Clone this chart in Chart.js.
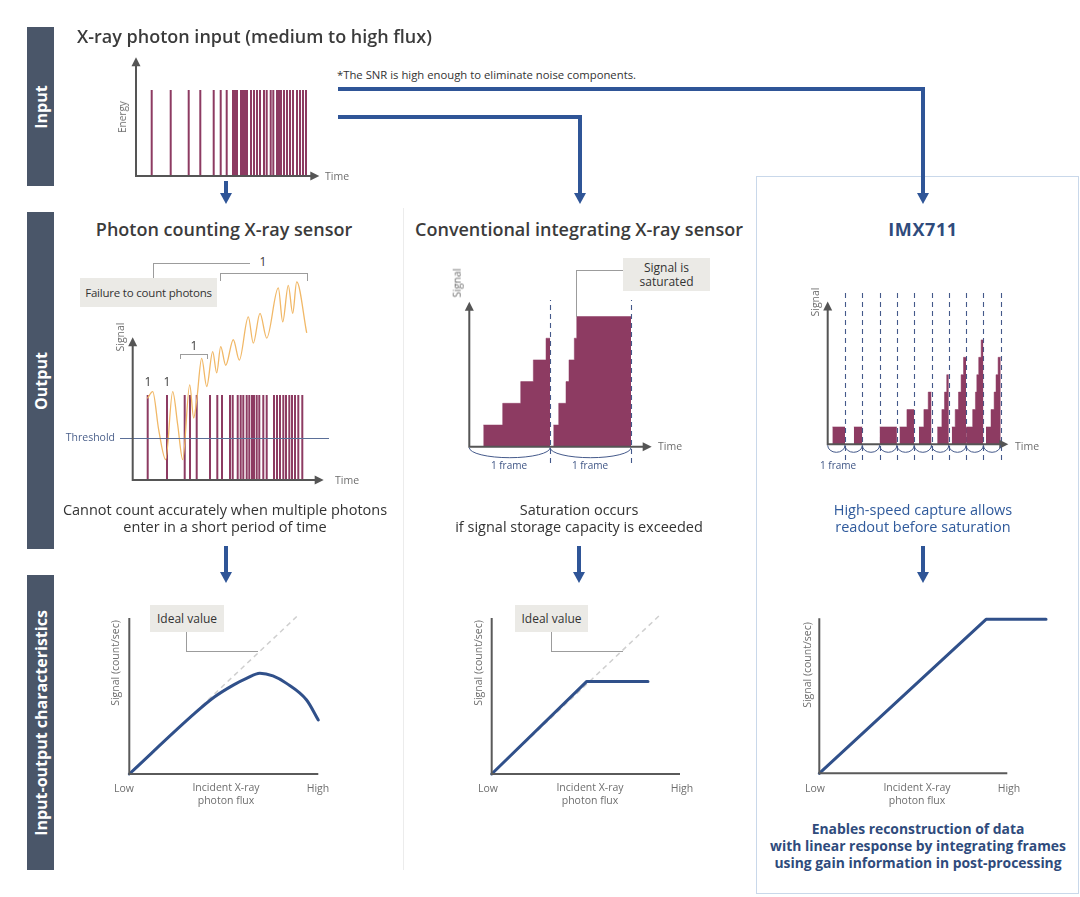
<!DOCTYPE html>
<html>
<head>
<meta charset="utf-8">
<title>X-ray photon input: photon counting vs integrating vs IMX711</title>
<script src="https://cdn.jsdelivr.net/npm/chart.js@4.4.1/dist/chart.umd.min.js"></script>
<style>
  body { margin: 0; width: 1080px; height: 897px; position: relative; overflow: hidden; background: #fff;
         font-family: "Open Sans", "Noto Sans", sans-serif; color: #3a3a3a; }
  .side { position: absolute; left: 27px; width: 27px; background: #4a5669; }
  .side span { position: absolute; left: 50%; top: 50%; transform: translate(-50%, -50%) rotate(-90deg);
               color: #fff; font-weight: 700; font-size: 16px; white-space: nowrap; }
  .t { position: absolute; white-space: nowrap; z-index: 3; line-height: 1.2; }
  .c { transform: translate(-50%, -50%); text-align: center; }
  .l { transform: translateY(-50%); }
  .r { transform: translate(-100%, -50%); }
  .rot { transform: translate(-50%, -50%) rotate(-90deg); }
  .ax { font-size: 10.5px; color: #6e6e6e; }
  .h2 { font-size: 18px; font-weight: 600; color: #3b3b3b; }
  .desc { font-size: 14.5px; color: #333; line-height: 17px; }
  .fr { font-size: 10px; color: #3f5585; }
  .note { position: absolute; background: #ebeae6; font-size: 12px; color: #333; display: flex; align-items: center;
          justify-content: center; text-align: center; line-height: 14px; z-index: 3; white-space: nowrap; }
  .ln { position: absolute; background: #9c9c9c; z-index: 3; }
  .blue { position: absolute; background: #2f5597; z-index: 3; }
  .head { position: absolute; width: 0; height: 0; border-left: 6px solid transparent; border-right: 6px solid transparent;
          border-top: 11px solid #2f5597; z-index: 3; }
  canvas { position: absolute; z-index: 1; }
</style>
</head>
<body>

<div class="side" style="top:27px;height:159px"><span>Input</span></div>
<div class="side" style="top:212px;height:337px"><span>Output</span></div>
<div class="side" style="top:575px;height:295px"><span>Input-output characteristics</span></div>

<div style="position:absolute;left:403px;top:208px;width:1px;height:662px;background:#ececec"></div>
<div style="position:absolute;left:756px;top:176px;width:323px;height:718px;border:1.5px solid #c9d8ea;box-sizing:border-box"></div>

<!-- input section -->
<div class="t l" style="left:77px;top:37px;font-size:18px;font-weight:600;color:#3b3b3b">X-ray photon input (medium to high flux)</div>
<div class="t l" style="left:337px;top:75px;font-size:11.3px;color:#333">*The SNR is high enough to eliminate noise components.</div>
<div class="t rot ax" style="left:122px;top:117px;font-size:10px">Energy</div>
<div class="t l ax" style="left:325px;top:176px">Time</div>

<div class="blue" style="left:338px;top:87px;width:587px;height:4px"></div>
<div class="blue" style="left:921px;top:87px;width:4px;height:107px"></div>
<div class="head" style="left:917px;top:193px"></div>
<div class="blue" style="left:338px;top:115px;width:244px;height:4px"></div>
<div class="blue" style="left:578px;top:115px;width:4px;height:79px"></div>
<div class="head" style="left:574px;top:193px"></div>
<div class="blue" style="left:224px;top:181px;width:4px;height:13px"></div>
<div class="head" style="left:220px;top:193px"></div>

<!-- column titles -->
<div class="t c h2" style="left:224px;top:230px">Photon counting X-ray sensor</div>
<div class="t c h2" style="left:579px;top:230px">Conventional integrating X-ray sensor</div>
<div class="t c h2" style="left:923px;top:230px;color:#2f4b7c;font-weight:700;letter-spacing:0.6px">IMX711</div>

<!-- photon counting annotations -->
<div class="note" style="left:80px;top:278px;width:137px;height:29px;font-size:11.5px;letter-spacing:-0.2px">Failure to count photons</div>
<div class="ln" style="left:153px;top:263px;width:97px;height:1px"></div>
<div class="ln" style="left:153px;top:263px;width:1px;height:15px"></div>
<div class="t c" style="left:263px;top:262px;font-size:12px">1</div>
<div class="ln" style="left:220px;top:273px;width:87px;height:1px"></div>
<div class="ln" style="left:220px;top:273px;width:1px;height:8px"></div>
<div class="ln" style="left:307px;top:273px;width:1px;height:8px"></div>
<div class="ln" style="left:180px;top:354px;width:27px;height:1px"></div>
<div class="ln" style="left:180px;top:354px;width:1px;height:5px"></div>
<div class="ln" style="left:207px;top:354px;width:1px;height:5px"></div>
<div class="t c" style="left:194px;top:346px;font-size:12px">1</div>
<div class="t c" style="left:148px;top:382px;font-size:12px">1</div>
<div class="t c" style="left:167px;top:382px;font-size:12px">1</div>
<div class="t rot ax" style="left:120px;top:337px">Signal</div>
<div class="t l ax" style="left:335px;top:480px">Time</div>
<div class="t r ax" style="left:115px;top:437px;color:#4a5f8a">Threshold</div>

<!-- integrating annotations -->
<div class="note" style="left:623px;top:258px;width:87px;height:33px">Signal is<br>saturated</div>
<div class="ln" style="left:576px;top:270px;width:47px;height:1px"></div>
<div class="ln" style="left:576px;top:270px;width:1px;height:47px"></div>
<div class="t rot ax" style="left:457px;top:283px">Signal</div>
<div class="t l ax" style="left:658px;top:446px">Time</div>
<div class="t c fr" style="left:509px;top:465px">1 frame</div>
<div class="t c fr" style="left:590px;top:465px">1 frame</div>

<!-- IMX711 annotations -->
<div class="t rot ax" style="left:815px;top:302px">Signal</div>
<div class="t l ax" style="left:1015px;top:446px">Time</div>
<div class="t l fr" style="left:820px;top:465px">1 frame</div>

<!-- descriptions -->
<div class="t c desc" style="left:225px;top:518px">Cannot count accurately when multiple photons<br>enter in a short period of time</div>
<div class="t c desc" style="left:579px;top:518px">Saturation occurs<br>if signal storage capacity is exceeded</div>
<div class="t c desc" style="left:923px;top:518px;color:#2f5a9c">High-speed capture allows<br>readout before saturation</div>

<div class="blue" style="left:224px;top:546px;width:4px;height:27px"></div>
<div class="head" style="left:220px;top:572px"></div>
<div class="blue" style="left:577px;top:546px;width:4px;height:27px"></div>
<div class="head" style="left:573px;top:572px"></div>
<div class="blue" style="left:921px;top:546px;width:4px;height:27px"></div>
<div class="head" style="left:917px;top:572px"></div>

<!-- input-output characteristics -->
<div class="note" style="left:150px;top:605px;width:74px;height:27px">Ideal value</div>
<div class="ln" style="left:186px;top:632px;width:1px;height:20px"></div>
<div class="ln" style="left:186px;top:651px;width:72px;height:1px"></div>
<div class="note" style="left:515px;top:605px;width:73px;height:27px">Ideal value</div>
<div class="ln" style="left:551px;top:632px;width:1px;height:20px"></div>
<div class="ln" style="left:551px;top:651px;width:72px;height:1px"></div>

<div class="t rot ax" style="left:115px;top:663px">Signal (count/sec)</div>
<div class="t c ax" style="left:124px;top:788px">Low</div>
<div class="t c ax" style="left:226px;top:794px">Incident X-ray<br>photon flux</div>
<div class="t c ax" style="left:318px;top:788px">High</div>

<div class="t rot ax" style="left:478px;top:663px">Signal (count/sec)</div>
<div class="t c ax" style="left:488px;top:788px">Low</div>
<div class="t c ax" style="left:590px;top:794px">Incident X-ray<br>photon flux</div>
<div class="t c ax" style="left:682px;top:788px">High</div>

<div class="t rot ax" style="left:807px;top:665px">Signal (count/sec)</div>
<div class="t c ax" style="left:815px;top:788px">Low</div>
<div class="t c ax" style="left:917px;top:794px">Incident X-ray<br>photon flux</div>
<div class="t c ax" style="left:1009px;top:788px">High</div>

<div class="t c" style="left:918px;top:845px;font-size:13.9px;font-weight:700;color:#2f4b7c;line-height:17px">Enables reconstruction of data<br>with linear response by integrating frames<br>using gain information in post-processing</div>

<script>
// ---- values ----

// input: photon arrival times (time units from the origin) and energy of each photon
var inputPhotonTimes = [15.7, 34.7, 52.7, 64.3, 77.7, 84.7, 90.7, 97, 99, 101, 105, 107, 109, 111, 115, 118,
    121, 124, 128, 130.7, 134.7, 137.3, 141, 143, 145, 148, 151, 154, 157, 161, 164, 167, 170];
var photonEnergy = 1;

// photon counting sensor: output pulses, threshold and the shaped (pile-up) signal
var countPulseTimes = [15, 34.3, 52, 57.3, 64, 77.3, 84.6, 89.3, 97.3, 100, 105, 108, 110.6, 114, 116.6, 119.3,
    121.3, 124, 126.6, 130.6, 134, 141.3, 144.3, 147.3, 150.6, 153.3, 156.6, 159.3, 162.3, 165.6, 169.6];
var pulseHeight = 1;
var threshold = 0.5;
var shapedTime  = [14.7, 20, 26, 33, 40, 45, 50, 57, 61, 64, 69, 74, 80, 84, 88, 93, 100.6, 106.6,
    115.6, 120.6, 127.3, 134, 145.6, 150, 155.6, 160, 164, 174];
var shapedLevel = [0.96, 1.04, 0.59, 0.24, 1.04, 0.65, 0.24, 1.12, 0.73, 0.94, 1.43, 1.10, 1.51, 1.26, 1.57, 1.35, 1.65, 1.41,
    1.92, 1.61, 1.96, 1.67, 2.26, 1.86, 2.29, 1.96, 2.33, 1.73];

// conventional integrating sensor (time in frames, signal in photons)
var convFrame1Times  = [0.173, 0.413, 0.636, 0.792, 0.949, 1.0];
var convFrame1Signal = [1, 2, 3, 4, 5, 5];
var convFrame2Times  = [1.039, 1.106, 1.196, 1.233, 1.299, 1.329, 2.0];
var convFrame2Signal = [1, 2, 3, 4, 5, 6, 6];
var convFrameEdges = [0, 1, 2];

// IMX711: ten short frames
var imxFrameTimes = [
    [0.27, 1.0],
    [1.51, 2.0],
    [],
    [3.0, 4.0],
    [4.15, 4.58, 5.0],
    [5.27, 5.56, 5.81, 6.0],
    [6.33, 6.60, 6.75, 6.88, 7.0],
    [7.17, 7.37, 7.56, 7.71, 7.85, 8.0],
    [8.0, 8.38, 8.54, 8.62, 8.73, 8.87, 9.0],
    [9.15, 9.44, 9.62, 9.73, 9.85, 10.0]
];
var imxFrameSignal = [
    [1, 1],
    [1, 1],
    [],
    [1, 1],
    [1, 2, 2],
    [1, 2, 3, 3],
    [1, 2, 3, 4, 4],
    [1, 2, 3, 4, 5, 5],
    [1, 2, 3, 4, 5, 6, 6],
    [1, 2, 3, 4, 5, 5]
];
var imxFrameEdges = [0, 1, 2, 3, 4, 5, 6, 7, 8, 9, 10];

// input-output characteristics (flux: 0 = Low, 1 = High)
var idealFlux = [0, 0.886];
var idealSignal = [0, 0.886];
var pcFlux   = [0, 0.35, 0.45, 0.55, 0.62, 0.691, 0.76, 0.832, 0.938, 1.0];
var pcSignal = [0, 0.345, 0.433, 0.5, 0.538, 0.567, 0.552, 0.51, 0.4165, 0.304];
var convIdealFlux = [0, 0.894];
var convIdealSignal = [0, 0.894];
var convFlux   = [0, 0.505, 0.83];
var convSignal = [0, 0.52, 0.52];
var imxFlux   = [0, 0.887, 1.206];
var imxSignal = [0, 0.865, 0.865];

// ---- drawing ----
var MAROON = '#8d3b62';
var LINE_BLUE = '#30508a';

function zip(xs, ys) {
    return xs.map(function(v, i) { return { x: v, y: ys[i] }; });
}

// draws axes, dashed frame lines, frame arcs and threshold rule through the chart scales
function deco(d) {
    return {
        id: 'deco',
        beforeDatasetsDraw: function(chart) {
            var ctx = chart.ctx, x = chart.scales.x, y = chart.scales.y;
            if (d.frameLines) {
                ctx.save();
                ctx.strokeStyle = '#44598a';
                ctx.lineWidth = 1.1;
                ctx.setLineDash([5, 4]);
                d.frameLines.at.forEach(function(t) {
                    var px = Math.round(x.getPixelForValue(t)) + 0.5;
                    ctx.beginPath();
                    ctx.moveTo(px, y.getPixelForValue(d.frameLines.from));
                    ctx.lineTo(px, y.getPixelForValue(d.frameLines.to));
                    ctx.stroke();
                });
                ctx.restore();
            }
        },
        afterDatasetsDraw: function(chart) {
            var ctx = chart.ctx, x = chart.scales.x, y = chart.scales.y;
            var x0 = x.getPixelForValue(0), y0 = y.getPixelForValue(0);
            var xEnd = x.getPixelForValue(d.axes.x), yEnd = y.getPixelForValue(d.axes.y);
            var a = d.axes.arrow ? 7 : 0;
            ctx.save();
            if (d.rule) {
                var ry = Math.round(y.getPixelForValue(d.rule.y)) + 0.5;
                ctx.strokeStyle = '#5b6f98';
                ctx.lineWidth = 1.1;
                ctx.beginPath();
                ctx.moveTo(x.getPixelForValue(d.rule.from), ry);
                ctx.lineTo(x.getPixelForValue(d.rule.to), ry);
                ctx.stroke();
            }
            ctx.strokeStyle = ctx.fillStyle = d.axes.color;
            ctx.lineWidth = 2;
            ctx.beginPath();
            ctx.moveTo(x0, yEnd + a);
            ctx.lineTo(x0, y0);
            ctx.lineTo(xEnd - a, y0);
            ctx.stroke();
            if (d.axes.arrow) {
                ctx.beginPath();
                ctx.moveTo(xEnd, y0); ctx.lineTo(xEnd - 9, y0 - 4.5); ctx.lineTo(xEnd - 9, y0 + 4.5);
                ctx.closePath(); ctx.fill();
                ctx.beginPath();
                ctx.moveTo(x0, yEnd); ctx.lineTo(x0 - 4.5, yEnd + 9); ctx.lineTo(x0 + 4.5, yEnd + 9);
                ctx.closePath(); ctx.fill();
            }
            if (d.arcs) {
                ctx.strokeStyle = '#44598a';
                ctx.lineWidth = 1;
                for (var i = 0; i < d.arcs.edges.length - 1; i++) {
                    var pa = x.getPixelForValue(d.arcs.edges[i]), pb = x.getPixelForValue(d.arcs.edges[i + 1]);
                    ctx.beginPath();
                    ctx.ellipse((pa + pb) / 2, y0 + 1, (pb - pa) / 2, d.arcs.depth, 0, 0, Math.PI);
                    ctx.stroke();
                }
            }
            ctx.restore();
        }
    };
}

// canvas box on the page + origin pixel and pixels per unit -> scale limits
function makeChart(box, origin, type, datasets, d) {
    var c = document.createElement('canvas');
    c.width = box.w;
    c.height = box.h;
    c.style.left = box.left + 'px';
    c.style.top = box.top + 'px';
    document.body.appendChild(c);
    return new Chart(c, {
        type: type,
        data: { datasets: datasets },
        options: {
            responsive: false,
            animation: false,
            layout: { padding: 0 },
            plugins: { legend: { display: false }, tooltip: { enabled: false } },
            elements: { point: { radius: 0 } },
            scales: {
                x: { type: 'linear', display: false, offset: false,
                     min: (box.left - origin.x) / origin.sx, max: (box.left + box.w - origin.x) / origin.sx },
                y: { type: 'linear', display: false,
                     min: (origin.y - box.top - box.h) / origin.sy, max: (origin.y - box.top) / origin.sy }
            }
        },
        plugins: [deco(d)]
    });
}

function pulses(times, h) {
    return times.map(function(t) { return { x: t, y: h }; });
}

function stepArea(points) {
    return { type: 'line', data: points, stepped: true, fill: 'origin', borderColor: MAROON,
             borderWidth: 0.5, backgroundColor: MAROON, pointRadius: 0 };
}

// input photons
makeChart({ left: 120, top: 45, w: 215, h: 145 }, { x: 136, y: 176, sx: 1, sy: 86 }, 'bar', [
    { data: pulses(inputPhotonTimes, photonEnergy), backgroundColor: MAROON, barThickness: 2, inflateAmount: 0 }
], { axes: { x: 183.3, y: 1.38, arrow: true, color: '#555' } });

// photon counting output
makeChart({ left: 110, top: 270, w: 230, h: 225 }, { x: 132.7, y: 480, sx: 1, sy: 85 }, 'bar', [
    { type: 'line', data: zip(shapedTime, shapedLevel), borderColor: '#f1b867', borderWidth: 1.3,
      cubicInterpolationMode: 'monotone', fill: false, pointRadius: 0 },
    { data: pulses(countPulseTimes, pulseHeight), backgroundColor: MAROON, barThickness: 2, inflateAmount: 0 }
], { axes: { x: 191, y: 1.68, arrow: true, color: '#555' }, rule: { y: threshold, from: -12.7, to: 196.3 } });

// conventional integrating sensor
makeChart({ left: 455, top: 290, w: 210, h: 185 }, { x: 469.3, y: 446.7, sx: 80.85, sy: 21.7 }, 'line', [
    stepArea(zip(convFrame1Times, convFrame1Signal)),
    stepArea(zip(convFrame2Times, convFrame2Signal))
], { axes: { x: 2.256, y: 6.68, arrow: true, color: '#555' },
     frameLines: { at: convFrameEdges.slice(1), from: -0.75, to: 6.76 },
     arcs: { edges: convFrameEdges, depth: 10 } });

// IMX711
var imxSets = [];
imxFrameTimes.forEach(function(ts, i) {
    if (ts.length) imxSets.push(stepArea(zip(ts, imxFrameSignal[i])));
});
makeChart({ left: 812, top: 285, w: 210, h: 185 }, { x: 827.7, y: 444.3, sx: 17.3, sy: 17.4 }, 'line', imxSets,
    { axes: { x: 10.44, y: 8.2, arrow: true, color: '#555' },
      frameLines: { at: imxFrameEdges.slice(1), from: -0.9, to: 8.7 },
      arcs: { edges: imxFrameEdges, depth: 7 } });

// input-output characteristics
function ioSets(fx, fy, smooth, ix, iy) {
    var sets = [{ data: zip(fx, fy), borderColor: LINE_BLUE, borderWidth: 3, fill: false, pointRadius: 0,
                  borderCapStyle: 'round', borderJoinStyle: 'round' }];
    if (smooth) sets[0].cubicInterpolationMode = 'monotone';
    if (ix) sets.push({ data: zip(ix, iy), borderColor: '#cfcfcf', borderWidth: 1.5, borderDash: [5, 4],
                        fill: false, pointRadius: 0 });
    return sets;
}
makeChart({ left: 115, top: 600, w: 215, h: 185 }, { x: 129.3, y: 774, sx: 189, sy: 177.7 }, 'line',
    ioSets(pcFlux, pcSignal, true, idealFlux, idealSignal), { axes: { x: 1, y: 0.878, arrow: false, color: '#5a5a5a' } });
makeChart({ left: 478, top: 600, w: 215, h: 185 }, { x: 491.7, y: 774, sx: 188.3, sy: 178 }, 'line',
    ioSets(convFlux, convSignal, false, convIdealFlux, convIdealSignal), { axes: { x: 1, y: 0.876, arrow: false, color: '#5a5a5a' } });
makeChart({ left: 805, top: 600, w: 250, h: 185 }, { x: 819.3, y: 773.3, sx: 188, sy: 178 }, 'line',
    ioSets(imxFlux, imxSignal, false), { axes: { x: 1, y: 0.871, arrow: false, color: '#5a5a5a' } });
</script>
</body>
</html>
